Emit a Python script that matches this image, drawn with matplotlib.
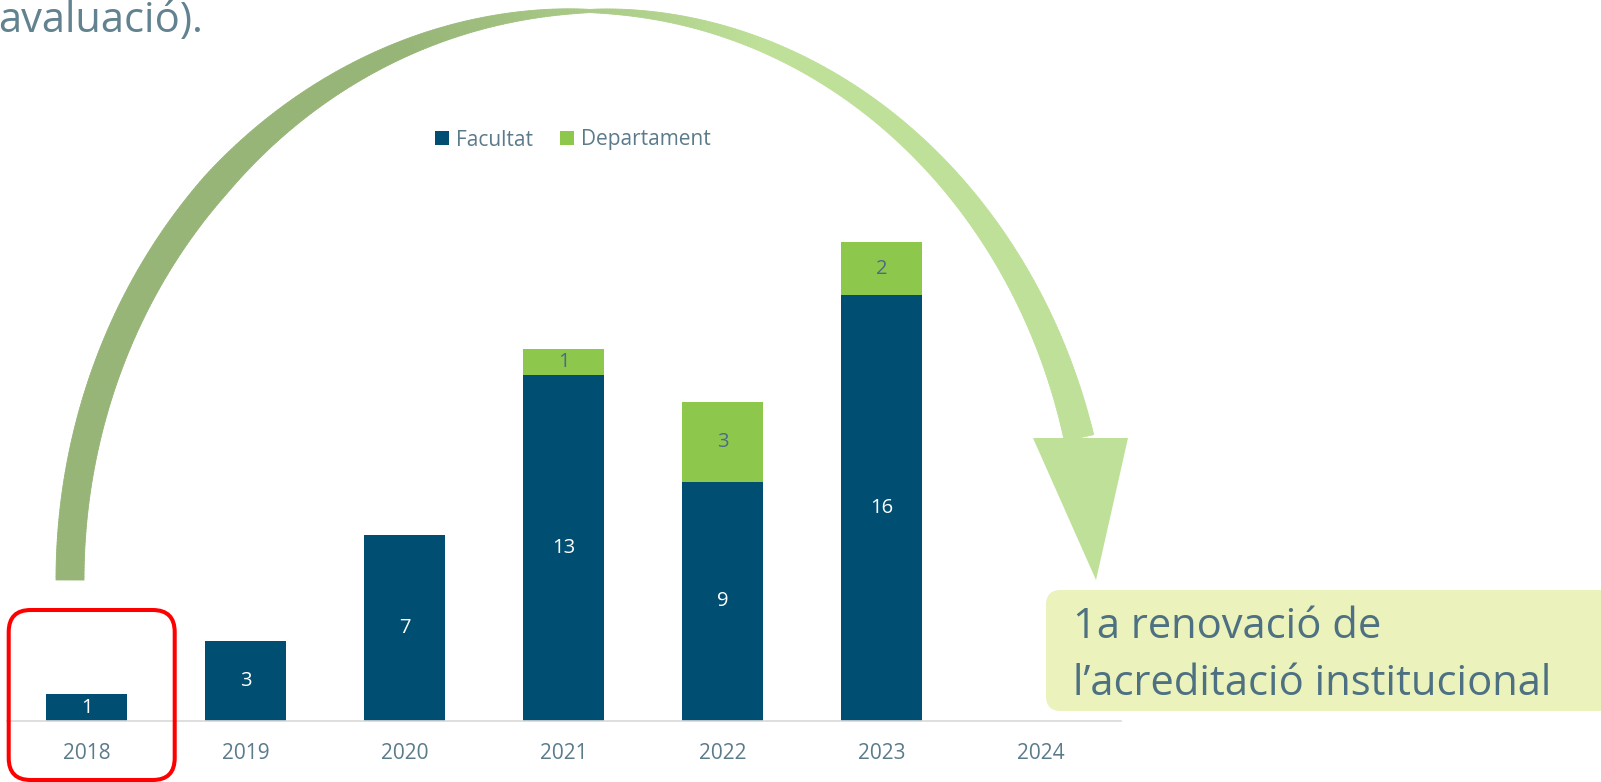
import numpy as np
import matplotlib
matplotlib.use('Agg')
import matplotlib.pyplot as plt
from matplotlib.patches import FancyBboxPatch, Polygon
from matplotlib.collections import PolyCollection
from matplotlib.colors import to_rgb

plt.rcParams['font.family'] = ['Open Sans', 'DejaVu Sans']

# data
years = ['2018', '2019', '2020', '2021', '2022', '2023', '2024']
facultat = [1, 3, 7, 13, 9, 16, 0]
departament = [0, 0, 0, 1, 3, 2, 0]

blue = '#004E71'
green = '#8DC84C'
text_grey = '#5B7B8B'

W, H = 1601, 782
fig = plt.figure(figsize=(W / 100, H / 100), dpi=100)

# main bar chart
ax = fig.add_axes([7 / W, 61 / H, 1113.5 / W, 665 / H])
x = np.arange(len(years))
ax.bar(x, facultat, width=0.51, color=blue, label='Facultat')
ax.bar(x, departament, width=0.51, bottom=facultat, color=green, label='Departament')

for i in range(len(years)):
    if facultat[i] > 0:
        ax.text(x[i], facultat[i] / 2, str(facultat[i]), ha='center', va='center',
                color='white', fontsize=14.5)
    if departament[i] > 0:
        ax.text(x[i], facultat[i] + departament[i] / 2, str(departament[i]),
                ha='center', va='center', color='#4E6A87', fontsize=14.5)

ax.set_xlim(-0.5, 6.5)
ax.set_ylim(0, 25)
ax.set_yticks([])
ax.set_xticks(x, years)
ax.tick_params(axis='x', length=0, pad=16, labelsize=15, labelcolor=text_grey)
for s in ['left', 'right', 'top']:
    ax.spines[s].set_visible(False)
ax.spines['bottom'].set_color('#D9D9D9')
ax.spines['bottom'].set_linewidth(1.2)
ax.patch.set_visible(False)

ax.legend(loc='center', bbox_to_anchor=(573 / W, 1 - 140 / H), bbox_transform=fig.transFigure,
          ncol=2, frameon=False, fontsize=15, handlelength=0.65, handleheight=0.65,
          handletextpad=0.35, columnspacing=1.3, labelcolor=text_grey)

# overlay in pixel coordinates for the decorations
ov = fig.add_axes([0, 0, 1, 1], zorder=5)
ov.set_xlim(0, W)
ov.set_ylim(H, 0)
ov.axis('off')
ov.patch.set_visible(False)

# curved arrow (tapered ribbon with colour shift)
cx, cy, ry = 590, 580, 569
t_end = np.arcsin(142 / ry)
t = np.linspace(np.pi, t_end, 500)
rx = np.where(t >= np.pi / 2, 520, 505)
px = cx + rx * np.cos(t)
py = cy - ry * np.sin(t)
phi = np.abs(t - np.pi / 2)
w = np.where(t >= np.pi / 2,
             3 + 25 * np.minimum(1, phi / 0.8) ** 0.8,
             3 + 27 * (phi / (np.pi / 2 - t_end)) ** 0.75)
dx = np.gradient(px)
dy = np.gradient(py)
norm = np.hypot(dx, dy)
nx, ny = -dy / norm, dx / norm
ox, oy = px + nx * w / 2, py + ny * w / 2
ix, iy = px - nx * w / 2, py - ny * w / 2

c_dark = np.array(to_rgb('#96B577'))
c_light = np.array(to_rgb('#BEE098'))
signed = np.where(t >= np.pi / 2, -phi, phi)
mix = np.clip((signed + 0.35) / 0.7, 0, 1)
quads, cols = [], []
for k in range(len(t) - 1):
    quads.append([(ox[k], oy[k]), (ox[k + 1], oy[k + 1]), (ix[k + 1], iy[k + 1]), (ix[k], iy[k])])
    m = (mix[k] + mix[k + 1]) / 2
    cols.append(tuple(c_dark * (1 - m) + c_light * m))
ov.add_collection(PolyCollection(quads, facecolors=cols, edgecolors=cols, linewidths=0.6))
ov.add_patch(Polygon([(1033, 438), (1128, 438), (1096, 580)], closed=True,
                     facecolor='#BEE098', edgecolor='none'))

# note box
ov.add_patch(FancyBboxPatch((1046, 590), 650, 121, boxstyle='round,pad=0,rounding_size=15',
                            facecolor='#EBF2BB', edgecolor='none'))
ov.text(1073, 638, '1a renovació de', fontsize=30, color='#4D7182', va='baseline')
ov.text(1073, 695, 'l’acreditació institucional', fontsize=30, color='#4D7182', va='baseline')

# red highlight round 2018
ov.add_patch(FancyBboxPatch((8.7, 610), 166, 170, boxstyle='round,pad=0,rounding_size=22',
                            facecolor='none', edgecolor='#FF0000', linewidth=2.9))

# cut-off title line
ov.text(203, 32, 'avaluació).', fontsize=30, color='#62828F', ha='right', va='baseline')

fig.savefig('out.png', dpi=100)
